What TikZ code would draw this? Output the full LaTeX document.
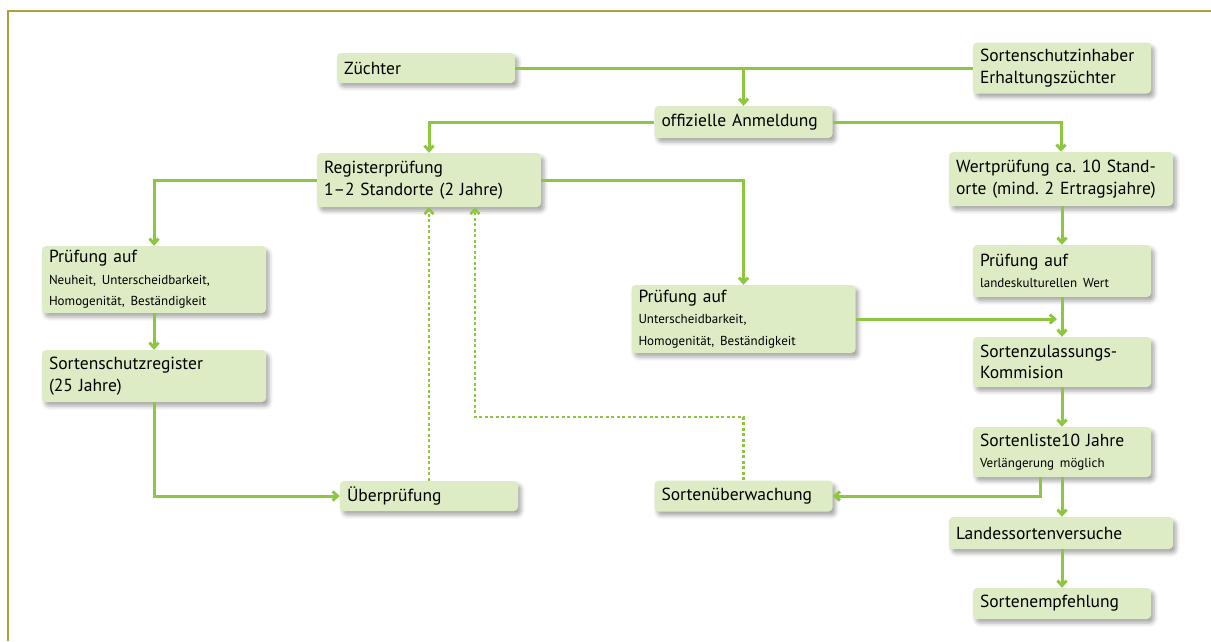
\documentclass[tikz,border=0pt]{standalone}
\usepackage{fontspec}
\setmainfont{PT Sans}
\usepackage{tikz}
\usetikzlibrary{arrows.meta, shadows.blur}

\definecolor{boxgreen}{RGB}{221,236,197}
\definecolor{linegreen}{RGB}{141,198,63}
\definecolor{framegold}{RGB}{176,160,60}

\newcommand{\grossschrift}{\fontsize{17.5}{21.5}\selectfont}
\newcommand{\klein}{\fontsize{13}{17.5}\selectfont}
\frenchspacing

\tikzset{
    box/.style={fill=boxgreen, rounded corners=4pt, inner xsep=7pt, inner ysep=0pt, align=left, font=\grossschrift,
        blur shadow={shadow xshift=3pt, shadow yshift=-4pt, shadow blur radius=4pt, shadow opacity=35}},
    narrowbox/.style={box, text width=164pt},
    widebox/.style={box, text width=210pt},
    link/.style={linegreen, line width=3pt},
    arrow/.style={link, -{Straight Barb[length=5pt, width=9pt]}},
    dotlink/.style={linegreen, line width=2.6pt, dash pattern=on 3pt off 2.5pt, -{Straight Barb[length=5pt, width=9pt]}}
}

\begin{document}
\begin{tikzpicture}[x=1pt, y=-1pt]
    \useasboundingbox (0, 0) rectangle (1211, 641);
    \draw[framegold, line width=1.2pt] (8, 641) -- (8, 11) -- (1211, 11);

    \node[narrowbox, minimum height=30pt] at (426, 68) (zuechter) {Züchter};
    \node[narrowbox, minimum height=51pt] at (1062, 68) (inhaber) {Sortenschutzinhaber\\Erhaltungszüchter};
    \node[narrowbox, minimum height=32pt] at (743.5, 122) (anmeldung) {offizielle Anmeldung};
    \node[widebox, minimum height=54pt] at (429, 180) (register) {Registerprüfung\\1--2 Standorte (2 Jahre)};
    \node[widebox, minimum height=54pt] at (1061, 179) (wert) {Wertprüfung ca. 10 Stand-\\orte (mind. 2 Ertragsjahre)};
    \node[widebox, minimum height=67pt] at (154, 279.5) (pruefNUB) {Prüfung auf\\{\klein Neuheit, Unterscheidbarkeit,}\\{\klein Homogenität, Beständigkeit}};
    \node[widebox, minimum height=68pt] at (743.5, 319) (pruefUHB) {Prüfung auf\\{\klein Unterscheidbarkeit,}\\{\klein Homogenität, Beständigkeit}};
    \node[narrowbox, minimum height=52pt] at (1062, 271) (landeskultur) {Prüfung auf\\{\klein landeskulturellen Wert}};
    \node[widebox, minimum height=52pt] at (154, 376) (schutzreg) {Sortenschutzregister\\(25 Jahre)};
    \node[narrowbox, minimum height=50pt] at (1062, 362) (zulassung) {Sortenzulassungs-\\Kommision};
    \node[narrowbox, minimum height=50pt] at (1062, 452) (liste) {Sortenliste10 Jahre\\{\klein Verlängerung möglich}};
    \node[narrowbox, minimum height=30pt] at (429, 496) (ueberpruefung) {Überprüfung};
    \node[narrowbox, minimum height=31pt] at (743.5, 496) (ueberwachung) {Sortenüberwachung};
    \node[widebox, minimum height=32pt] at (1061, 533) (landessorten) {Landessortenversuche};
    \node[narrowbox, minimum height=31pt] at (1062, 603.5) (empfehlung) {Sortenempfehlung};

    \coordinate (dotturn) at (475, 417);

    \draw[link] (zuechter) -- (inhaber);
    \draw[arrow] (zuechter.east -| anmeldung.north) -- (anmeldung.north);
    \draw[arrow] (anmeldung.west) -| (register.north);
    \draw[arrow] (anmeldung.east) -| (wert.north);
    \draw[arrow] (register.west) -| (pruefNUB.north);
    \draw[arrow] (register.east) -| (pruefUHB.north);
    \draw[arrow] (pruefNUB) -- (schutzreg);
    \draw[arrow] (schutzreg.south) |- (ueberpruefung.west);
    \draw[dotlink] (ueberpruefung.north) -- (ueberpruefung.north |- register.south);
    \draw[dotlink] (ueberwachung.north) |- (dotturn) -- (dotturn |- register.south);
    \draw[arrow] (landeskultur.north |- wert.south) -- (landeskultur.north);
    \draw[arrow] (landeskultur) -- (zulassung);
    \draw[arrow, shorten >=5pt] (pruefUHB.east) -- (pruefUHB.east -| zulassung.north);
    \draw[arrow] (zulassung) -- (liste);
    \draw[arrow] (liste.south) -- (liste.south |- landessorten.north);
    \draw[arrow] ([xshift=-22pt]liste.south) |- (ueberwachung.east);
    \draw[arrow] (empfehlung.north |- landessorten.south) -- (empfehlung.north);
\end{tikzpicture}
\end{document}
